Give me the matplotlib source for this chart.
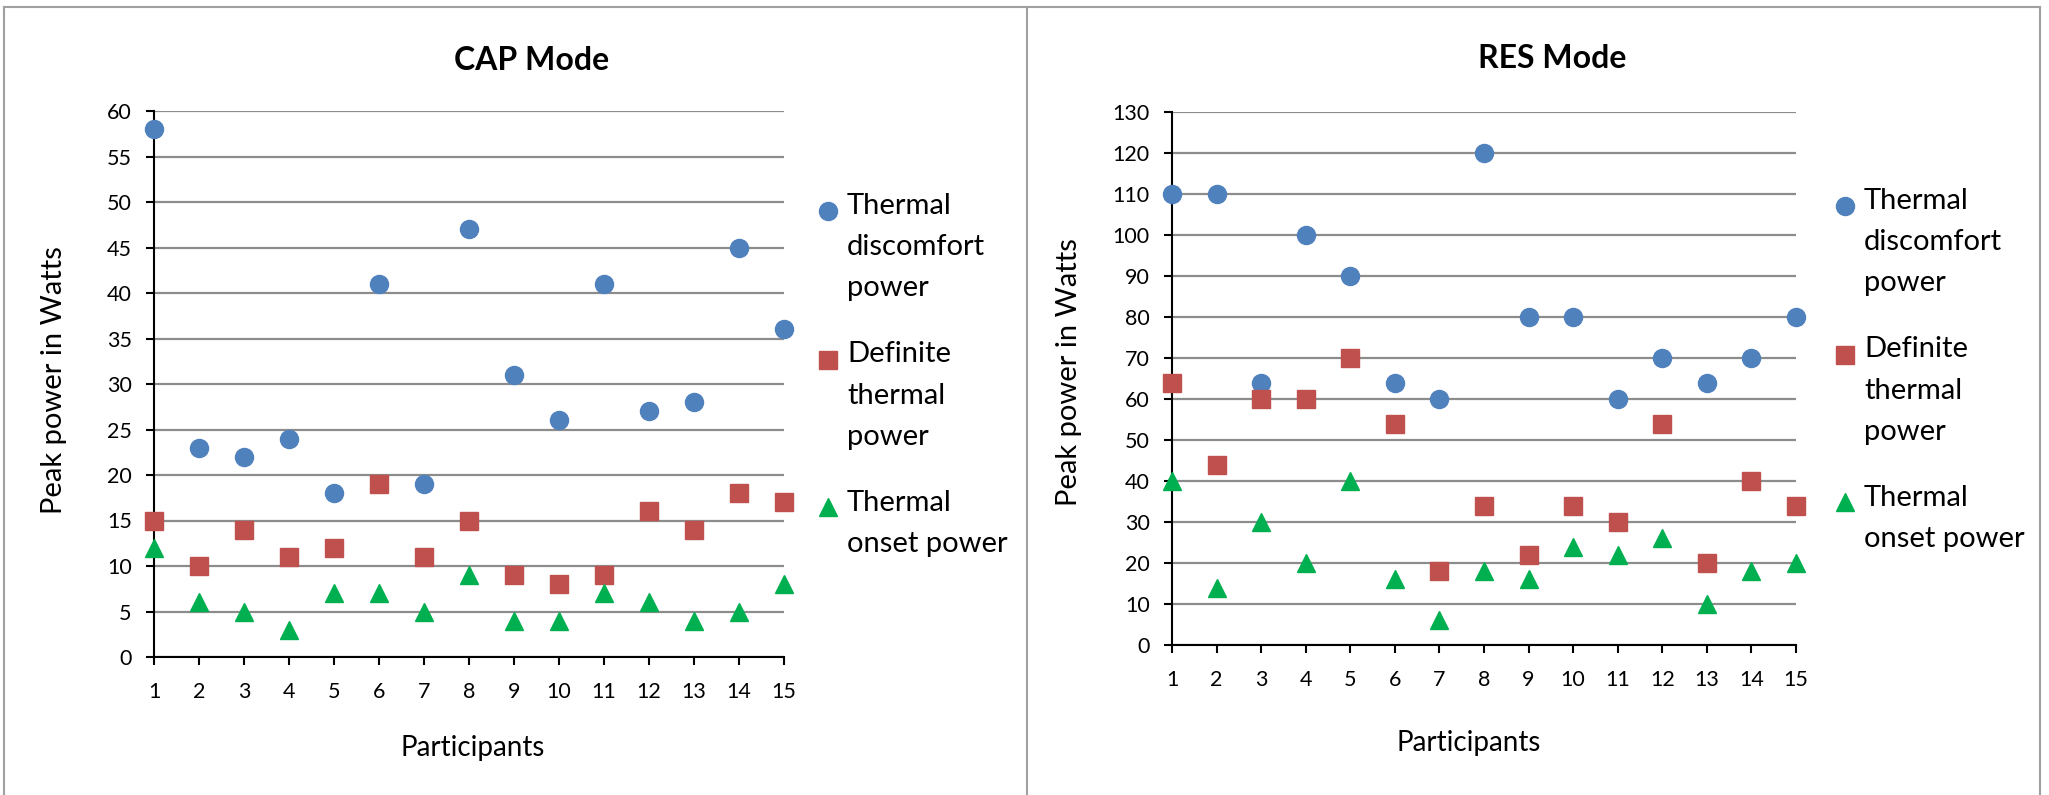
import matplotlib
matplotlib.use("Agg")
import matplotlib.pyplot as plt
import numpy as np
from matplotlib.lines import Line2D

participants = list(range(1, 16))

cap_discomfort = [58, 23, 22, 24, 18, 41, 19, 47, 31, 26, 41, 27, 28, 45, 36]
cap_definite = [15, 10, 14, 11, 12, 19, 11, 15, 9, 8, 9, 16, 14, 18, 17]
cap_onset = [12, 6, 5, 3, 7, 7, 5, 9, 4, 4, 7, 6, 4, 5, 8]

res_discomfort = [110, 110, 64, 100, 90, 64, 60, 120, 80, 80, 60, 70, 64, 70, 80]
res_definite = [64, 44, 60, 60, 70, 54, 18, 34, 22, 34, 30, 54, 20, 40, 34]
res_onset = [40, 14, 30, 20, 40, 16, 6, 18, 16, 24, 22, 26, 10, 18, 20]

labels = ["Thermal\ndiscomfort\npower", "Definite\nthermal\npower", "Thermal\nonset power"]

BLUE = "#4f81bd"
RED = "#c0504d"
GREEN = "#00b050"
FONT = "Lato"

W, H = 2049, 795
fig = plt.figure(figsize=(W / 100, H / 100), dpi=100)


def px_axes(x0, y0, x1, y1):
    # pixel box (top-left origin) -> figure axes
    return fig.add_axes([x0 / W, (H - y1) / H, (x1 - x0) / W, (y1 - y0) / H])


def draw(ax, disc, defi, onset, ymax, ystep, title, title_xy, leg_xy, ylab_xy, xlab_xy):
    ax.plot(participants, disc, "o", color=BLUE, ms=13, clip_on=False, zorder=3, label=labels[0])
    ax.plot(participants, defi, "s", color=RED, ms=12.5, clip_on=False, zorder=3, label=labels[1])
    ax.plot(participants, onset, "^", color=GREEN, ms=13, clip_on=False, zorder=3, label=labels[2])
    ax.set_xlim(1, 15)
    ax.set_ylim(0, ymax)
    ax.set_xticks(participants)
    ax.set_yticks(range(0, ymax + 1, ystep))
    ax.grid(axis="y", color="#8c8c8c", lw=1.6, zorder=0)
    ax.set_axisbelow(True)
    for s in ["top", "right"]:
        ax.spines[s].set_visible(False)
    ax.spines["left"].set_linewidth(1.5)
    ax.spines["bottom"].set_linewidth(1.5)
    ax.tick_params(axis="x", direction="out", length=6, width=1.5, pad=12, labelsize=15.5)
    ax.tick_params(axis="y", direction="out", length=6, width=1.5, pad=10, labelsize=15.5)
    for t in ax.get_xticklabels() + ax.get_yticklabels():
        t.set_fontfamily(FONT)
    ax.set_ylabel("Peak power in Watts", fontsize=21, family=FONT)
    ax.yaxis.set_label_coords(*ylab_xy)
    ax.set_xlabel("Participants", fontsize=20, family=FONT)
    ax.xaxis.set_label_coords(*xlab_xy)
    ax.xaxis.label.set_va("center")
    fig.text(title_xy[0] / W, 1 - title_xy[1] / H, title, fontsize=23, fontweight="bold",
             family=FONT, ha="center", va="center")
    leg = ax.legend(loc="upper left", bbox_to_anchor=(leg_xy[0] / W, 1 - leg_xy[1] / H),
                    bbox_transform=fig.transFigure, frameon=False, borderpad=0,
                    borderaxespad=0, handletextpad=0.26, handlelength=0.8,
                    labelspacing=1.38, prop={"family": FONT, "size": 21})
    for t in leg.get_texts():
        t.set_linespacing(1.72)
    return leg


ax1 = px_axes(154, 111, 784, 657)
leg1 = draw(ax1, cap_discomfort, cap_definite, cap_onset, 60, 5, "CAP Mode", (532, 60),
            (816, 193), (-0.138, 0.507), (0.506, -0.167))

ax2 = px_axes(1172, 112, 1796, 645)
leg2 = draw(ax2, res_discomfort, res_definite, res_onset, 130, 10, "RES Mode", (1552, 58),
            (1833, 188), (-0.144, 0.512), (0.476, -0.184))

# move legend markers up to the first line of each label (Excel style)
fig.canvas.draw()
for leg in (leg1, leg2):
    for t, h in zip(leg.get_texts(), leg.legend_handles):
        n = t.get_text().count("\n") + 1
        hpx = t.get_window_extent().height
        shift = hpx * (n - 1) / (2 * n) * 72 / fig.dpi
        h.set_ydata(np.asarray(h.get_ydata(), dtype=float) + shift)

# panel borders
for xs, ys in [((4, 4), (7, 795)), ((4, 2040), (7, 7)), ((1027, 1027), (7, 795)),
               ((2040, 2040), (7, 795))]:
    fig.add_artist(Line2D([x / W for x in xs], [1 - y / H for y in ys],
                          transform=fig.transFigure, color="#a0a0a0", lw=1.5))

fig.savefig("out.png", dpi=100)
